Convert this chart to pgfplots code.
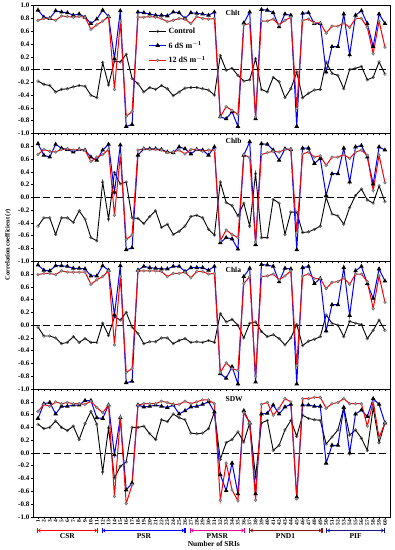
\documentclass[border=0pt]{standalone}
\usepackage{fontspec}
\setmainfont{Liberation Serif}
\usepackage{pgfplots}
\pgfplotsset{compat=1.18}
\usepackage{pgfplotstable}
\usepgfplotslibrary{groupplots}
\usetikzlibrary{arrows.meta}

\definecolor{pnd}{RGB}{140,20,20}
\definecolor{pif}{RGB}{20,20,140}
\definecolor{mk}{RGB}{165,165,165}

\pgfplotstableread{
x c s r
1 -0.18 0.93 0.77
2 -0.23 0.82 0.80
3 -0.25 0.80 0.80
4 -0.35 0.92 0.77
5 -0.31 0.90 0.84
6 -0.30 0.89 0.83
7 -0.27 0.85 0.82
8 -0.25 0.87 0.83
9 -0.26 0.82 0.82
10 -0.40 0.72 0.63
11 -0.44 0.79 0.70
12 0.11 0.93 0.76
13 -0.24 0.83 0.83
14 0.13 0.17 -0.31
15 0.12 0.92 0.75
16 0.24 -0.89 -0.73
17 -0.14 -0.86 -0.66
18 -0.22 0.90 0.82
19 -0.35 0.89 0.82
20 -0.28 0.87 0.83
21 -0.31 0.85 0.82
22 -0.25 0.85 0.80
23 -0.30 0.84 0.75
24 -0.41 0.90 0.77
25 -0.35 0.89 0.80
26 -0.29 0.80 0.79
27 -0.28 0.89 0.72
28 -0.28 0.88 0.83
29 -0.30 0.87 0.80
30 -0.32 0.85 0.79
31 -0.40 0.90 0.80
32 0.22 -0.74 -0.74
33 -0.01 -0.77 -0.58
34 0.02 -0.66 -0.64
35 -0.09 -0.89 -0.70
36 -0.18 0.73 0.70
37 -0.16 0.90 0.72
38 0.17 -0.77 -0.74
39 -0.31 0.94 0.76
40 -0.35 0.93 0.76
41 -0.12 0.89 0.79
42 -0.19 0.67 0.70
43 -0.44 0.87 0.77
44 -0.30 0.85 0.82
45 -0.04 -0.89 -0.61
46 -0.44 0.88 0.77
47 -0.37 0.89 0.79
48 -0.32 0.72 0.73
49 -0.31 0.72 0.73
50 0.12 -0.04 0.57
51 -0.06 0.36 0.68
52 -0.09 0.36 0.68
53 -0.30 0.87 0.73
54 0.00 0.23 0.66
55 0.02 0.85 0.80
56 0.05 0.92 0.80
57 -0.16 0.72 0.66
58 -0.12 0.36 0.25
59 0.12 0.87 0.76
60 -0.07 0.72 0.35
}\chlt

\pgfplotstableread{
x c s r
1 -0.45 0.84 0.67
2 -0.32 0.66 0.75
3 -0.32 0.63 0.72
4 -0.58 0.83 0.71
5 -0.32 0.77 0.75
6 -0.32 0.75 0.76
7 -0.39 0.71 0.74
8 -0.21 0.75 0.75
9 -0.34 0.74 0.74
10 -0.63 0.63 0.56
11 -0.68 0.58 0.63
12 0.24 0.74 0.67
13 -0.34 0.83 0.75
14 0.39 0.08 -0.28
15 0.21 0.82 0.66
16 0.24 -0.82 -0.66
17 -0.32 -0.79 -0.59
18 -0.33 0.66 0.74
19 -0.41 0.76 0.76
20 -0.30 0.76 0.75
21 -0.21 0.76 0.75
22 -0.47 0.75 0.74
23 -0.42 0.71 0.70
24 -0.58 0.70 0.71
25 -0.53 0.79 0.74
26 -0.45 0.76 0.68
27 -0.30 0.68 0.75
28 -0.28 0.75 0.75
29 -0.32 0.74 0.72
30 -0.50 0.66 0.74
31 -0.59 0.79 0.74
32 0.24 -0.71 -0.68
33 -0.08 -0.63 -0.51
34 -0.13 -0.65 -0.58
35 -0.29 -0.81 -0.63
36 -0.09 0.66 0.67
37 -0.45 0.87 0.62
38 0.37 -0.74 -0.70
39 -0.63 0.84 0.67
40 -0.63 0.83 0.70
41 -0.03 0.74 0.72
42 -0.09 0.58 0.71
43 -0.58 0.76 0.75
44 -0.23 0.75 0.75
45 -0.23 -0.82 -0.55
46 -0.55 0.77 0.68
47 -0.54 0.77 0.71
48 -0.50 0.53 0.63
49 -0.45 0.61 0.65
50 0.00 0.03 0.50
51 -0.26 0.37 0.63
52 -0.29 0.37 0.63
53 -0.42 0.77 0.67
54 -0.16 0.24 0.61
55 0.03 0.79 0.71
56 0.13 0.81 0.74
57 -0.04 0.63 0.66
58 -0.09 0.21 0.11
59 0.18 0.79 0.66
60 -0.07 0.74 0.23
}\chlb

\pgfplotstableread{
x c s r
1 -0.03 0.94 0.79
2 -0.17 0.86 0.81
3 -0.17 0.85 0.81
4 -0.20 0.93 0.79
5 -0.29 0.93 0.85
6 -0.27 0.92 0.83
7 -0.18 0.89 0.83
8 -0.27 0.89 0.83
9 -0.21 0.88 0.83
10 -0.27 0.77 0.64
11 -0.27 0.77 0.71
12 0.03 0.93 0.76
13 -0.16 0.86 0.85
14 0.13 0.16 -0.31
15 0.08 0.93 0.76
16 0.20 -0.90 -0.74
17 -0.03 -0.88 -0.68
18 -0.13 0.86 0.85
19 -0.29 0.92 0.85
20 -0.26 0.90 0.85
21 -0.26 0.89 0.85
22 -0.20 0.88 0.84
23 -0.20 0.88 0.76
24 -0.29 0.92 0.81
25 -0.24 0.92 0.81
26 -0.21 0.84 0.83
27 -0.27 0.90 0.74
28 -0.26 0.90 0.84
29 -0.27 0.90 0.84
30 -0.24 0.86 0.80
31 -0.27 0.92 0.81
32 0.18 -0.76 -0.74
33 0.05 -0.83 -0.59
34 0.09 -0.65 -0.68
35 0.00 -0.92 -0.71
36 -0.20 0.76 0.65
37 0.03 0.89 0.76
38 0.05 -0.89 -0.80
39 -0.10 0.95 0.76
40 -0.18 0.94 0.77
41 -0.15 0.92 0.80
42 -0.21 0.68 0.71
43 -0.31 0.89 0.77
44 -0.20 0.88 0.85
45 0.01 -0.92 -0.63
46 -0.32 0.90 0.77
47 -0.25 0.92 0.80
48 -0.22 0.65 0.73
49 -0.18 0.73 0.73
50 0.16 -0.09 0.57
51 0.03 0.32 0.67
52 0.00 0.32 0.68
53 -0.18 0.90 0.74
54 0.06 0.15 0.64
55 0.03 0.85 0.80
56 0.01 0.92 0.80
57 -0.21 0.65 0.68
58 -0.08 0.42 0.26
59 0.08 0.88 0.77
60 -0.08 0.69 0.36
}\chla

\pgfplotstableread{
x c s r
1 0.45 0.54 0.65
2 0.38 0.77 0.76
3 0.40 0.79 0.73
4 0.50 0.61 0.80
5 0.40 0.73 0.77
6 0.35 0.73 0.79
7 0.42 0.75 0.77
8 0.21 0.75 0.77
9 0.46 0.82 0.76
10 0.65 0.82 0.81
11 0.45 0.55 0.71
12 -0.30 0.54 0.63
13 0.39 0.75 0.75
14 -0.39 -0.03 -0.68
15 -0.21 0.55 0.56
16 -0.14 -0.58 -0.79
17 0.40 -0.47 -0.50
18 0.40 0.75 0.75
19 0.42 0.72 0.77
20 0.30 0.73 0.77
21 0.21 0.75 0.77
22 0.52 0.73 0.81
23 0.49 0.71 0.79
24 0.61 0.75 0.76
25 0.55 0.61 0.76
26 0.52 0.66 0.81
27 0.31 0.72 0.77
28 0.30 0.73 0.80
29 0.31 0.76 0.83
30 0.38 0.80 0.83
31 0.64 0.64 0.77
32 -0.10 -0.34 -0.74
33 0.16 -0.59 -0.16
34 0.21 -0.16 -0.58
35 0.33 -0.64 -0.75
36 0.17 0.66 0.63
37 0.47 0.47 0.47
38 -0.37 -0.64 -0.74
39 0.47 0.61 0.76
40 0.51 0.62 0.79
41 0.04 0.75 0.59
42 0.12 0.61 0.70
43 0.36 0.72 0.85
44 0.51 0.76 0.80
45 0.26 -0.69 -0.72
46 0.59 0.75 0.85
47 0.54 0.75 0.85
48 0.52 0.73 0.87
49 0.51 0.73 0.87
50 0.14 -0.16 0.70
51 0.25 0.12 0.77
52 0.36 0.12 0.79
53 0.71 0.71 0.85
54 0.28 0.00 0.77
55 0.36 0.61 0.77
56 0.23 0.67 0.77
57 0.04 0.57 0.42
58 0.71 0.85 0.80
59 0.16 0.76 0.24
60 0.47 0.47 0.47
}\sdw

\pgfplotsset{
  ctrlstyle/.style={black, line width=0.9pt, mark=o, mark size=1.4pt,
    mark options={fill=white, draw=black!75, line width=0.4pt, solid}},
  sixstyle/.style={blue, line width=1pt, mark=triangle*, mark size=1.7pt,
    mark options={fill=black, draw=black, solid}},
  twstyle/.style={red, line width=1pt, mark=*, mark size=1.4pt,
    mark options={fill=mk, draw=black!60, line width=0.4pt, solid}},
  zeroline/.style={black, line width=0.8pt, dash pattern=on 7pt off 3.5pt, forget plot},
}
\tikzset{
  ttl/.style={anchor=west, font=\fontsize{7.5}{8}\selectfont\bfseries},
  brk/.style={line width=1.2pt, {Bar[width=5pt]Stealth[length=2.5pt,width=4pt]}-{Stealth[length=2.5pt,width=4pt]Bar[width=5pt]}},
}

\begin{document}
\begin{tikzpicture}
\begin{groupplot}[
  group style={group size=1 by 4, vertical sep=0pt, xticklabels at=edge bottom},
  scale only axis, width=357pt, height=127.8pt,
  xmin=0.15, xmax=60.85, ymin=-1, ymax=1,
  xtick={1,...,60},
  ytick={-1,-0.8,-0.6,-0.4,-0.2,0,0.2,0.4,0.6,0.8},
  tick align=outside, major tick length=2pt,
  xtick pos=bottom, ytick pos=left,
  tick style={black, line width=0.5pt},
  axis line style={black, line width=0.6pt},
  yticklabel style={font=\fontsize{7}{8}\selectfont\bfseries, inner sep=1.5pt,
    /pgf/number format/.cd, fixed, fixed zerofill, precision=1, assume math mode=true},
  xticklabel style={font=\fontsize{5.5}{6}\selectfont\bfseries, rotate=90, anchor=east, inner sep=1pt,
    /pgf/number format/assume math mode=true},
  clip=false,
]
\nextgroupplot[ytick={-1,-0.8,-0.6,-0.4,-0.2,0,0.2,0.4,0.6,0.8,1},
  legend style={at={(rel axis cs:0.315,0.86)}, anchor=north west, draw=none, fill=none,
    font=\fontsize{8}{9}\selectfont\bfseries, row sep=2.5pt},
  legend cell align=left]
\addplot[zeroline] coordinates {(0.15,0) (60.85,0)};
\addplot[ctrlstyle] table[x=x, y=c] {\chlt};
\addlegendentry{Control}
\addplot[sixstyle] table[x=x, y=s] {\chlt};
\addlegendentry{6 dS m$^{\mathbf{-1}}$}
\addplot[twstyle] table[x=x, y=r] {\chlt};
\addlegendentry{12 dS m$^{\mathbf{-1}}$}
\node[ttl] at (axis cs:32.3,0.88) {Chlt};

\nextgroupplot
\addplot[zeroline] coordinates {(0.15,0) (60.85,0)};
\addplot[ctrlstyle] table[x=x, y=c] {\chlb};
\addplot[sixstyle] table[x=x, y=s] {\chlb};
\addplot[twstyle] table[x=x, y=r] {\chlb};
\node[ttl] at (axis cs:32.3,0.89) {Chlb};

\nextgroupplot
\addplot[zeroline] coordinates {(0.15,0) (60.85,0)};
\addplot[ctrlstyle] table[x=x, y=c] {\chla};
\addplot[sixstyle] table[x=x, y=s] {\chla};
\addplot[twstyle] table[x=x, y=r] {\chla};
\node[ttl] at (axis cs:32.3,0.86) {Chla};

\nextgroupplot
\addplot[zeroline] coordinates {(0.15,0) (60.85,0)};
\addplot[ctrlstyle] table[x=x, y=c] {\sdw};
\addplot[sixstyle] table[x=x, y=s] {\sdw};
\addplot[twstyle] table[x=x, y=r] {\sdw};
\node[ttl] at (axis cs:32.3,0.84) {SDW};
\draw[brk, red] (axis cs:0.8,-1.214) -- (axis cs:11.25,-1.214);
\draw[brk, blue] (axis cs:11.8,-1.214) -- (axis cs:26.1,-1.214);
\draw[brk, magenta] (axis cs:26.8,-1.214) -- (axis cs:36.2,-1.214);
\draw[brk, pnd] (axis cs:36.9,-1.214) -- (axis cs:49.4,-1.214);
\draw[brk, pif] (axis cs:50.0,-1.214) -- (axis cs:60.0,-1.214);
\begin{scope}[every node/.style={font=\fontsize{7.5}{8}\selectfont\bfseries}]
\node at (axis cs:6.0,-1.30) {CSR};
\node at (axis cs:19.0,-1.30) {PSR};
\node at (axis cs:31.5,-1.30) {PMSR};
\node at (axis cs:43.1,-1.30) {PND1};
\node at (axis cs:55.0,-1.30) {PIF};
\node at (axis cs:30.9,-1.425) {Number of SRIs};
\end{scope}
\end{groupplot}
\node[rotate=90, font=\fontsize{6.5}{7}\selectfont\bfseries]
  at ([xshift=-25pt, yshift=-239pt]group c1r1.north west) {Correlation coefficient (\textit{r})};
\path ([xshift=-33pt, yshift=5.7pt]group c1r1.north west) rectangle ([xshift=5pt, yshift=-33pt]group c1r4.south east);
\end{tikzpicture}
\end{document}
